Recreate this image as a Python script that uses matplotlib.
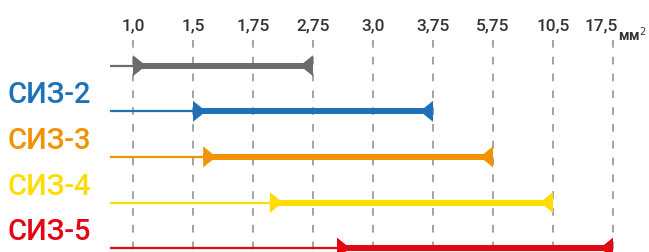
import matplotlib.pyplot as plt
from matplotlib.patches import Polygon

# Tick labels of the (categorical) cross-section axis, mm²
ticks = ["1,0", "1,5", "1,75", "2,75", "3,0", "3,75", "5,75", "10,5", "17,5"]

# Rows: name, start and end as positions on the tick axis
names = ["", "СИЗ-2", "СИЗ-3", "СИЗ-4", "СИЗ-5"]
starts = [0, 1, 1.17, 2.28, 3.4]
ends = [3, 5, 6, 7, 8]
colors = ["#6b6b6b", "#1d71b8", "#f39200", "#ffdd00", "#e30613"]

fig = plt.figure(figsize=(6.49, 2.53), dpi=100)
ax = fig.add_axes([0, 0, 1, 1])
ax.set_xlim(-133 / 60, (649 - 133) / 60)
ax.set_ylim((253 - 66.7) / 45.6, -66.7 / 45.6)
ax.axis("off")

# dashed grid lines + tick labels
for i, t in enumerate(ticks):
    ax.plot([i, i], [-0.56, 4.2], color="#8a8a8a", lw=1.1, ls=(0, (5, 6)), zorder=1)
    # last label sits a little left to leave room for the unit
    xl = i - 0.2 if i == len(ticks) - 1 else i
    ax.text(xl, -0.89, t, ha="center", va="center", fontsize=12.5,
            family="Roboto", fontweight="medium", color="#333333")
ax.text(8.08, -0.7, "мм$^2$", ha="left", va="center", fontsize=10,
        family="Roboto", fontweight="bold", color="#333333")

tw = 13 / 60    # triangle width
th = 10.5 / 45.6  # triangle half height
x0 = -23 / 60   # where the thin line starts

for r in range(len(names)):
    c = colors[r]
    s, e = starts[r], ends[r]
    ax.plot([x0, s], [r, r], color=c, lw=1.6, solid_capstyle="butt", zorder=2)
    ax.plot([s, e], [r, r], color=c, lw=4.3, solid_capstyle="butt", zorder=2)
    ax.add_patch(Polygon([[s, r - th], [s, r + th], [s + tw, r]], closed=True,
                         color=c, lw=0, zorder=3))
    ax.add_patch(Polygon([[e, r - th], [e, r + th], [e - tw, r]], closed=True,
                         color=c, lw=0, zorder=3))
    if names[r]:
        ax.text(-125 / 60, r - 0.37, names[r], ha="left", va="center",
                fontsize=21, family="Roboto", fontweight="medium", color=c)

fig.savefig("out.png", dpi=100)
